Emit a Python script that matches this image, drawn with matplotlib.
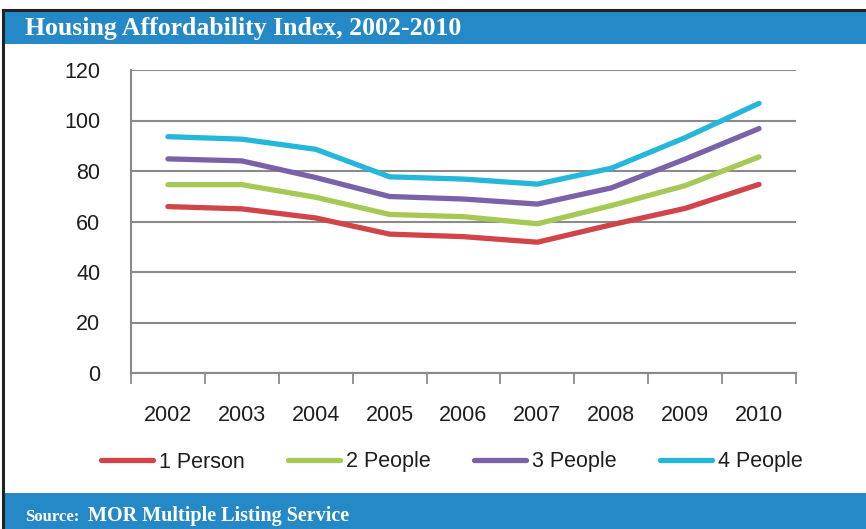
import matplotlib
matplotlib.use("Agg")
import matplotlib.pyplot as plt
from matplotlib.patches import Rectangle

years = ["2002", "2003", "2004", "2005", "2006", "2007", "2008", "2009", "2010"]
one_person = [65.9, 65.0, 61.4, 55.0, 54.0, 51.8, 58.7, 65.2, 74.7]
two_people = [74.6, 74.6, 69.6, 62.8, 61.9, 59.1, 66.3, 74.2, 85.6]
three_people = [84.8, 84.0, 77.4, 69.9, 68.9, 66.9, 73.3, 84.7, 96.8]
four_people = [93.6, 92.6, 88.6, 77.7, 76.8, 74.8, 81.1, 93.2, 106.8]
series_labels = ["1 Person", "2 People", "3 People", "4 People"]
series_colors = ["#D1444A", "#A6C955", "#7A62A9", "#25B6DB"]
y_ticks = [0, 20, 40, 60, 80, 100, 120]

W, H = 866, 529
fig = plt.figure(figsize=(W / 100, H / 100), dpi=100)
fig.patch.set_facecolor("white")

def fx(px):
    return px / W

def fy(py):
    return 1 - py / H

blue = "#2589C8"
text_col = "#1E1E1E"
font_sans = "Liberation Sans"
font_serif = "Liberation Serif"

# header and footer bands
fig.patches.append(Rectangle((fx(3), fy(44)), 1, (44 - 12) / H, transform=fig.transFigure,
                             facecolor=blue, edgecolor="none", zorder=0))
fig.patches.append(Rectangle((fx(3), 0), 1, (H - 493) / H, transform=fig.transFigure,
                             facecolor=blue, edgecolor="none", zorder=0))
# outer frame (left and top edges)
fig.add_artist(plt.Line2D([fx(3), fx(3)], [0, fy(10)], transform=fig.transFigure,
                          color="#222222", lw=2.2))
fig.add_artist(plt.Line2D([fx(3), 1], [fy(10), fy(10)], transform=fig.transFigure,
                          color="#222222", lw=2.2))

fig.text(fx(25), fy(29), "Housing Affordability Index, 2002-2010", color="white",
         family=font_serif, fontsize=18.5, fontweight="bold", va="center", ha="left")
fig.text(fx(25), fy(517), "Source:", color="white", family=font_serif,
         fontsize=12, fontweight="bold", va="center", ha="left")
fig.text(fx(88), fy(516), "MOR Multiple Listing Service", color="white",
         family=font_serif, fontsize=14.5, fontweight="bold", va="center", ha="left")

left, right, top, bottom = 131, 796, 70, 373
ax = fig.add_axes([fx(left), fy(bottom), (right - left) / W, (bottom - top) / H])
x = list(range(len(years)))
for vals, lab, col in zip([one_person, two_people, three_people, four_people],
                          series_labels, series_colors):
    ax.plot(x, vals, color=col, lw=3.8, label=lab, solid_capstyle="round",
            solid_joinstyle="round", zorder=3)

ax.set_xlim(-0.5, len(years) - 0.5)
ax.set_ylim(0, 120)
ax.set_yticks(y_ticks)
ax.set_yticklabels([str(v) for v in y_ticks], family=font_sans, fontsize=15.5,
                   color=text_col)
ax.yaxis.grid(True, color="#8A8A8A", lw=1.5)
ax.set_axisbelow(True)
ax.tick_params(axis="y", length=0, pad=22)

ax.set_xticks([i - 0.5 for i in range(len(years) + 1)])
ax.set_xticklabels([])
ax.set_xticks(x, minor=True)
ax.set_xticklabels(years, minor=True, family=font_sans, fontsize=15.5, color=text_col)
ax.tick_params(axis="x", which="major", length=8, width=1.3, color="#8A8A8A")
ax.tick_params(axis="x", which="minor", length=0, pad=23)

for s in ["top", "right"]:
    ax.spines[s].set_visible(False)
for s in ["left", "bottom"]:
    ax.spines[s].set_color("#8A8A8A")
    ax.spines[s].set_linewidth(1.5)

handles, labels = ax.get_legend_handles_labels()
leg = fig.legend(handles, labels, loc="center", bbox_to_anchor=(fx(452), fy(462)),
                 ncol=4, frameon=False, handlelength=2.4, handletextpad=0.3,
                 columnspacing=2.0, prop={"family": font_sans, "size": 15.5})
for t in leg.get_texts():
    t.set_color(text_col)

fig.savefig("out.png", dpi=100)
